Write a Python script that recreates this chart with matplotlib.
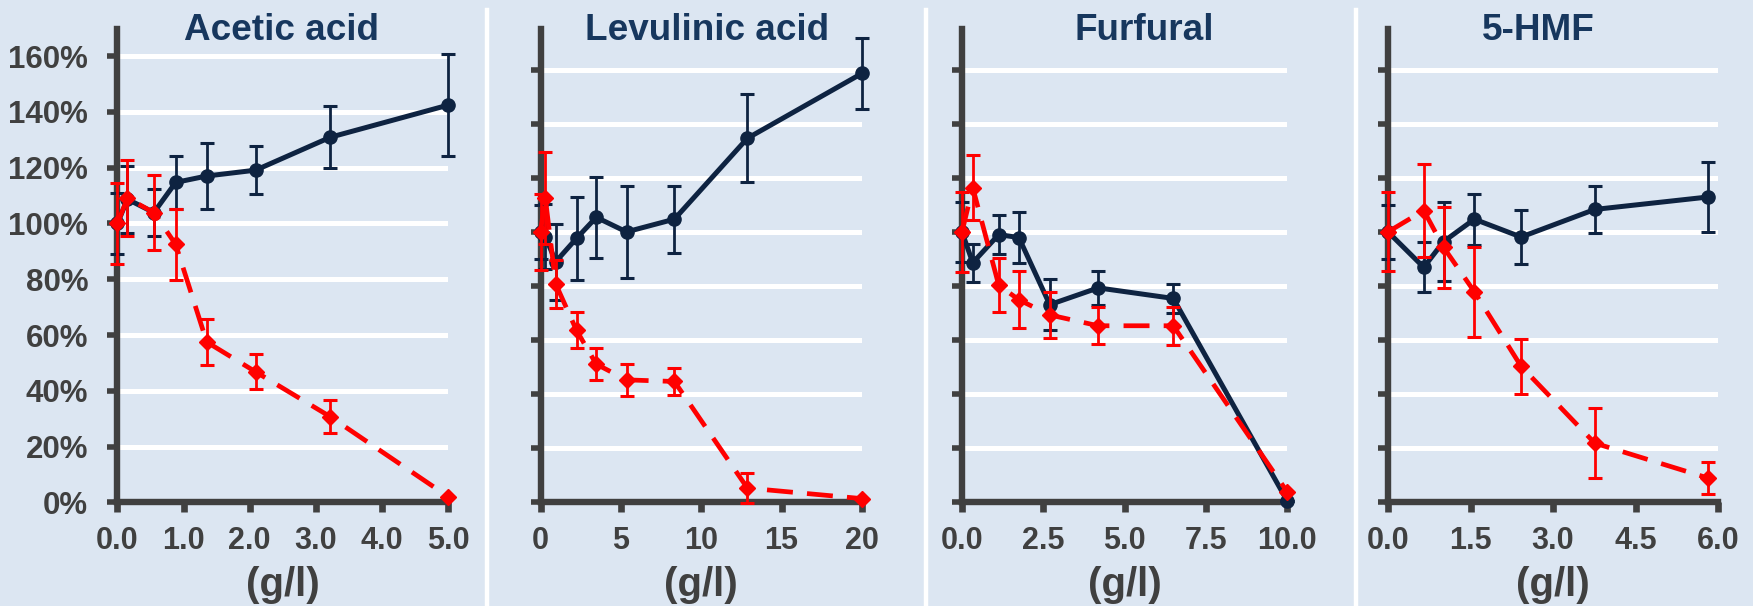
import matplotlib.pyplot as plt
import numpy as np
from matplotlib.lines import Line2D

bg = '#DCE6F2'
navy = '#0E2341'
red = '#FF0000'
grey = '#404040'
title_col = '#17375E'

titles = ['Acetic acid', 'Levulinic acid', 'Furfural', '5-HMF']

# acetic acid
acetic_x = [0, 0.15, 0.55, 0.88, 1.35, 2.09, 3.22, 5.0]
acetic_navy = [100, 108.7, 103.9, 114.7, 117.0, 119.1, 130.9, 142.4]
acetic_navy_err = [11, 12, 8.5, 9.5, 11.7, 8.5, 11.2, 18.3]
acetic_red = [100, 109.1, 103.9, 92.5, 57.5, 46.8, 30.7, 2.1]
acetic_red_err = [14.6, 13.7, 13.3, 12.8, 8.2, 6.3, 5.9, 0]

# levulinic acid
levu_x = [0, 0.3, 0.95, 2.24, 3.47, 5.35, 8.33, 12.87, 20]
levu_navy = [100, 98.2, 89, 97.6, 105.4, 100, 104.7, 134.6, 158.6]
levu_navy_err = [10, 12, 14, 15.4, 15, 16.9, 12.4, 16.2, 13.2]
levu_red = [100, 112.5, 80.7, 63.6, 51.1, 45.3, 44.7, 5.3, 1.4]
levu_red_err = [14, 17, 9, 6.6, 5.8, 5.9, 4.9, 5.7, 0]

# furfural
furf_x = [0, 0.33, 1.13, 1.75, 2.7, 4.19, 6.5, 10]
furf_navy = [100, 88.6, 99, 97.9, 73.1, 79.3, 75.4, 0.7]
furf_navy_err = [11, 7.1, 7.1, 9.5, 9.4, 6.2, 5.5, 0]
furf_red = [100, 116.4, 80.3, 74.9, 69.3, 65.3, 65.3, 4]
furf_red_err = [14.8, 12, 10, 10.5, 8.4, 6.9, 7, 0]

# 5-HMF
hmf_x = [0, 0.65, 1.01, 1.57, 2.42, 3.76, 5.82]
hmf_navy = [100, 86.9, 96.4, 104.7, 98.1, 108.3, 112.9]
hmf_navy_err = [10, 9.3, 14.5, 9.4, 10.1, 8.7, 12.8]
hmf_red = [100, 107.9, 94.3, 77.9, 50.3, 21.9, 9]
hmf_red_err = [14.6, 17.3, 15, 16.6, 10.1, 13, 5.8]

xticks = [[0, 1, 2, 3, 4, 5], [0, 5, 10, 15, 20], [0, 2.5, 5, 7.5, 10], [0, 1.5, 3, 4.5, 6]]
xticklabels = [['0.0', '1.0', '2.0', '3.0', '4.0', '5.0'],
               ['0', '5', '10', '15', '20'],
               ['0.0', '2.5', '5.0', '7.5', '10.0'],
               ['0.0', '1.5', '3.0', '4.5', '6.0']]
yticks = [0, 20, 40, 60, 80, 100, 120, 140, 160]
yticklabels = ['0%', '20%', '40%', '60%', '80%', '100%', '120%', '140%', '160%']

panels = [
    (acetic_x, acetic_navy, acetic_navy_err, acetic_red, acetic_red_err),
    (levu_x, levu_navy, levu_navy_err, levu_red, levu_red_err),
    (furf_x, furf_navy, furf_navy_err, furf_red, furf_red_err),
    (hmf_x, hmf_navy, hmf_navy_err, hmf_red, hmf_red_err),
]

W, H = 1753, 606
plt.rcParams['font.family'] = ['Liberation Sans', 'DejaVu Sans']
plt.rcParams['font.weight'] = 'bold'

fig = plt.figure(figsize=(W / 100, H / 100), dpi=100, facecolor=bg)

# pixel boxes: left, right
boxes = [(117.5, 448), (540.5, 862), (962, 1287), (1388, 1718)]
ytops = [169.7, 175, 175, 175]
title_x = [282, 707, 1144, 1538]
y_bot, y_top = 502.4, 29

for i in range(4):
    l, r = boxes[i]
    ax = fig.add_axes([l / W, 1 - y_bot / H, (r - l) / W, (y_bot - y_top) / H])
    ax.set_facecolor(bg)
    x, nv, ne, rv, re = panels[i]
    ax.set_xlim(0, xticks[i][-1])
    ax.set_ylim(0, ytops[i])
    ax.set_yticks(yticks)
    ax.set_xticks(xticks[i])
    ax.set_xticklabels(xticklabels[i])
    if i == 0:
        ax.set_yticklabels(yticklabels)
    else:
        ax.set_yticklabels([])
    for yv in yticks[1:]:
        ax.axhline(yv, color='white', lw=3.6, zorder=0)
    for s in ['top', 'right']:
        ax.spines[s].set_visible(False)
    for s in ['left', 'bottom']:
        ax.spines[s].set_color(grey)
        ax.spines[s].set_linewidth(4.6)
        ax.spines[s].set_zorder(1)
    ax.tick_params(axis='x', direction='out', length=7, width=4.8, color=grey,
                   labelcolor=grey, labelsize=22, pad=10)
    ax.tick_params(axis='y', direction='out', length=7, width=4, color=grey,
                   labelcolor=grey, labelsize=22.5, pad=14)

    e1 = ax.errorbar(x, nv, yerr=ne, color=navy, lw=3.6, marker='o', ms=9.5,
                     elinewidth=2, capsize=4.7, capthick=2.2, zorder=3)
    e2 = ax.errorbar(x, rv, yerr=re, color=red, lw=3.4, ls=(0, (5.5, 3)), marker='D',
                     ms=8.5, elinewidth=2, capsize=4.7, capthick=2.2, zorder=4)
    for e in (e1, e2):
        for a in e.lines[0:1] + tuple(e.lines[1]) + tuple(e.lines[2]):
            a.set_clip_on(False)

    fig.text(title_x[i] / W, 1 - 40 / H, titles[i], ha='center', va='baseline',
             fontsize=26.6, fontweight='bold', color=title_col)
    fig.text((l + r) / 2 / W, 1 - 566 / H, '(g/l)', ha='center', va='top',
             fontsize=29, fontweight='bold', color=grey)

# white separators between panels
for sx in [487, 926, 1356]:
    fig.add_artist(Line2D([sx / W, sx / W], [0, 1 - 10 / H], transform=fig.transFigure,
                          color='white', lw=3.2))

fig.savefig('out.png', dpi=100, facecolor=bg)
